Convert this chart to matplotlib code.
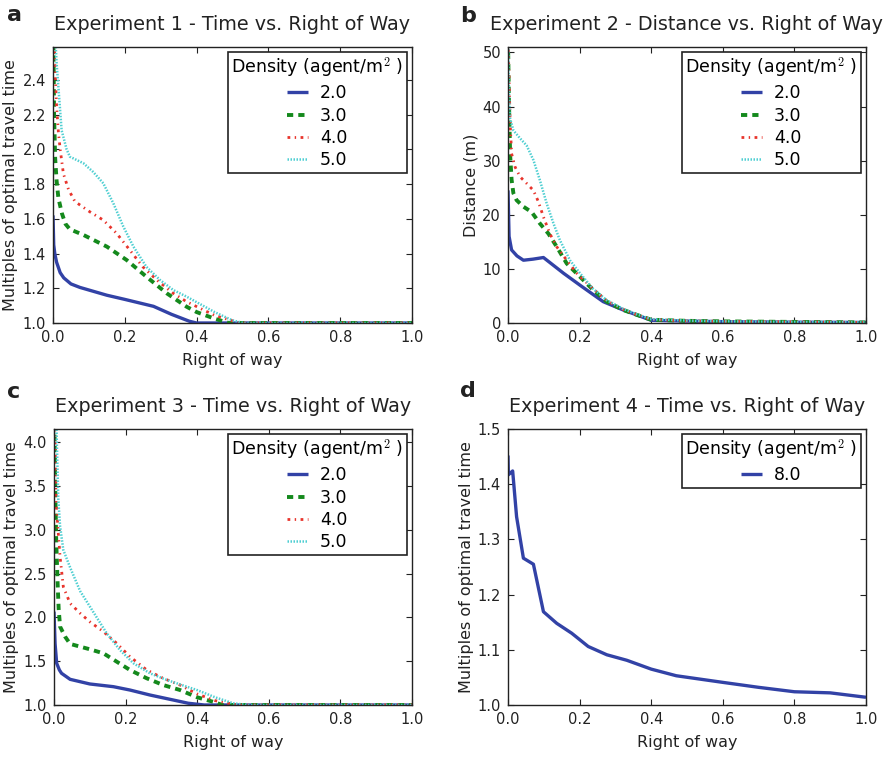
import matplotlib
matplotlib.use("Agg")
import matplotlib.pyplot as plt

plt.rcParams['font.family'] = ['DejaVu Sans']
plt.rcParams['mathtext.fontset'] = 'cm'
plt.rcParams['xtick.direction'] = 'in'
plt.rcParams['ytick.direction'] = 'in'
plt.rcParams['xtick.top'] = True
plt.rcParams['ytick.right'] = True
plt.rcParams['xtick.major.size'] = 4
plt.rcParams['ytick.major.size'] = 4
plt.rcParams['axes.linewidth'] = 1.0

densities = ["2.0", "3.0", "4.0", "5.0"]
density_d = ["8.0"]
legend_title = "Density (agent/m$^2$ )"
titles = ["Experiment 1 - Time vs. Right of Way",
          "Experiment 2 - Distance vs. Right of Way",
          "Experiment 3 - Time vs. Right of Way",
          "Experiment 4 - Time vs. Right of Way"]
ylabels = ["Multiples of optimal travel time", "Distance (m)",
           "Multiples of optimal travel time", "Multiples of optimal travel time"]
xlabel = "Right of way"
panel_letters = ["a", "b", "c", "d"]

# ---- Panel a ----
a_x2 = [0, 0.002, 0.005, 0.01, 0.02, 0.03, 0.05, 0.075, 0.1, 0.15, 0.2, 0.25, 0.28, 0.33, 0.38, 0.4, 0.5, 0.6, 0.7, 0.8, 0.9, 1.0]
a_y2 = [1.62, 1.45, 1.40, 1.35, 1.29, 1.26, 1.225, 1.205, 1.19, 1.16, 1.136, 1.111, 1.096, 1.05, 1.01, 1.0, 1.0, 1.0, 1.0, 1.0, 1.0, 1.0]
a_x3 = [0, 0.003, 0.006, 0.01, 0.015, 0.025, 0.035, 0.047, 0.085, 0.15, 0.205, 0.26, 0.317, 0.372, 0.4, 0.45, 0.49, 0.6, 0.8, 1.0]
a_y3 = [2.9, 2.2, 1.95, 1.82, 1.72, 1.63, 1.57, 1.54, 1.507, 1.44, 1.363, 1.267, 1.171, 1.094, 1.063, 1.025, 1.0, 1.0, 1.0, 1.0]
a_x4 = [0, 0.005, 0.01, 0.015, 0.02, 0.029, 0.043, 0.061, 0.103, 0.14, 0.177, 0.214, 0.25, 0.289, 0.335, 0.372, 0.45, 0.52, 0.6, 0.8, 1.0]
a_y4 = [3.0, 2.5, 2.25, 2.1, 2.0, 1.86, 1.77, 1.70, 1.64, 1.593, 1.517, 1.42, 1.324, 1.248, 1.171, 1.123, 1.044, 1.0, 1.0, 1.0, 1.0]
a_x5 = [0, 0.005, 0.01, 0.015, 0.024, 0.038, 0.047, 0.085, 0.112, 0.14, 0.168, 0.196, 0.224, 0.26, 0.298, 0.335, 0.372, 0.45, 0.5, 0.53, 0.6, 0.8, 1.0]
a_y5 = [3.2, 2.7, 2.5, 2.36, 2.11, 2.0, 1.958, 1.92, 1.87, 1.805, 1.69, 1.555, 1.44, 1.324, 1.248, 1.19, 1.152, 1.063, 1.015, 1.0, 1.0, 1.0, 1.0]

# ---- Panel b ----
b_x2 = [0, 0.003, 0.01, 0.025, 0.043, 0.07, 0.099, 0.155, 0.205, 0.266, 0.322, 0.36, 0.4, 0.5, 0.6, 0.8, 1.0]
b_y2 = [24.5, 16, 13.5, 12.4, 11.6, 11.8, 12.1, 9.2, 6.8, 3.94, 2.4, 1.48, 0.5, 0.35, 0.25, 0.15, 0.1]
b_x3 = [0, 0.003, 0.006, 0.01, 0.015, 0.024, 0.043, 0.066, 0.089, 0.113, 0.136, 0.164, 0.201, 0.238, 0.276, 0.322, 0.36, 0.4, 0.5, 0.6, 0.8, 1.0]
b_y3 = [52, 40, 31, 26.5, 24, 22.7, 21.5, 20.5, 18.4, 16.5, 14.1, 11.0, 8.55, 6.1, 3.94, 2.4, 1.5, 0.6, 0.4, 0.3, 0.2, 0.1]
b_x4 = [0, 0.003, 0.006, 0.01, 0.02, 0.034, 0.052, 0.071, 0.085, 0.099, 0.117, 0.136, 0.164, 0.192, 0.238, 0.276, 0.322, 0.36, 0.4, 0.5, 0.6, 0.8, 1.0]
b_y4 = [53, 45, 37, 31.3, 28.8, 27, 25.8, 24.5, 22.4, 19.6, 16.5, 14.1, 11.6, 9.2, 6.3, 4.1, 2.5, 1.55, 0.65, 0.4, 0.3, 0.2, 0.1]
b_x5 = [0, 0.002, 0.005, 0.015, 0.034, 0.052, 0.071, 0.089, 0.108, 0.127, 0.145, 0.173, 0.201, 0.238, 0.276, 0.322, 0.36, 0.4, 0.5, 0.6, 0.8, 1.0]
b_y5 = [54, 45, 38, 35.6, 34.1, 32.8, 30.1, 26.4, 22.1, 18.4, 15.3, 11.6, 9.2, 6.3, 4.2, 2.6, 1.6, 0.7, 0.45, 0.3, 0.2, 0.1]

# ---- Panel c ----
c_x2 = [0, 0.003, 0.0075, 0.015, 0.021, 0.045, 0.1, 0.166, 0.212, 0.268, 0.333, 0.375, 0.42, 0.5, 0.6, 0.8, 1.0]
c_y2 = [2.066, 1.7, 1.476, 1.40, 1.362, 1.293, 1.24, 1.209, 1.171, 1.114, 1.057, 1.02, 1.0, 1.0, 1.0, 1.0, 1.0]
c_x3 = [0, 0.003, 0.006, 0.01, 0.013, 0.017, 0.031, 0.045, 0.073, 0.1, 0.138, 0.175, 0.212, 0.259, 0.305, 0.352, 0.4, 0.45, 0.47, 0.6, 0.8, 1.0]
c_y3 = [4.6, 3.6, 2.9, 2.4, 2.1, 1.894, 1.78, 1.697, 1.666, 1.636, 1.59, 1.495, 1.40, 1.305, 1.228, 1.171, 1.088, 1.03, 1.0, 1.0, 1.0, 1.0]
c_x4 = [0, 0.003, 0.0056, 0.012, 0.017, 0.026, 0.045, 0.073, 0.1, 0.138, 0.175, 0.212, 0.259, 0.305, 0.352, 0.4, 0.45, 0.5, 0.52, 0.6, 0.8, 1.0]
c_y4 = [4.9, 4.0, 3.34, 2.96, 2.69, 2.35, 2.16, 2.047, 1.95, 1.837, 1.705, 1.552, 1.40, 1.305, 1.228, 1.126, 1.05, 1.01, 1.0, 1.0, 1.0, 1.0]
c_x5 = [0, 0.007, 0.012, 0.017, 0.026, 0.045, 0.073, 0.11, 0.147, 0.184, 0.222, 0.268, 0.315, 0.371, 0.4, 0.45, 0.5, 0.54, 0.6, 0.8, 1.0]
c_y5 = [5.0, 4.15, 3.35, 3.04, 2.77, 2.57, 2.3, 2.06, 1.82, 1.628, 1.476, 1.362, 1.286, 1.209, 1.17, 1.088, 1.02, 1.0, 1.0, 1.0, 1.0]

# ---- Panel d ----
d_x8 = [0, 0.001, 0.006, 0.013, 0.024, 0.043, 0.071, 0.099, 0.136, 0.178, 0.224, 0.276, 0.332, 0.4, 0.47, 0.6, 0.7, 0.8, 0.9, 1.0]
d_y8 = [1.452, 1.417, 1.42, 1.424, 1.341, 1.266, 1.255, 1.169, 1.148, 1.13, 1.106, 1.091, 1.081, 1.065, 1.053, 1.041, 1.032, 1.024, 1.022, 1.014]

xticks = [0.0, 0.2, 0.4, 0.6, 0.8, 1.0]
a_yticks = [1.0, 1.2, 1.4, 1.6, 1.8, 2.0, 2.2, 2.4]
b_yticks = [0, 10, 20, 30, 40, 50]
c_yticks = [1.0, 1.5, 2.0, 2.5, 3.0, 3.5, 4.0]
d_yticks = [1.0, 1.1, 1.2, 1.3, 1.4, 1.5]

styles = [
    dict(color='#3242a6', lw=2.4, ls='-'),
    dict(color='#14891c', lw=2.8, ls=(0, (1.6, 1.3))),
    dict(color='#e8342c', lw=2.0, ls=(0, (1.0, 1.6, 0.5, 1.6))),
    dict(color='#4fcfd2', lw=1.8, ls=(0, (0.6, 0.6))),
]

W, H = 890, 758
fig = plt.figure(figsize=(W / 100, H / 100), dpi=100)

def rect(l, r, t, b):
    return [l / W, (H - b) / H, (r - l) / W, (b - t) / H]

axes = [fig.add_axes(rect(53, 412, 47, 323)),
        fig.add_axes(rect(508, 866, 47, 323)),
        fig.add_axes(rect(54, 412, 429, 705)),
        fig.add_axes(rect(508, 866, 429, 705))]

series = [
    [(a_x2, a_y2), (a_x3, a_y3), (a_x4, a_y4), (a_x5, a_y5)],
    [(b_x2, b_y2), (b_x3, b_y3), (b_x4, b_y4), (b_x5, b_y5)],
    [(c_x2, c_y2), (c_x3, c_y3), (c_x4, c_y4), (c_x5, c_y5)],
    [(d_x8, d_y8)],
]
labels = [densities, densities, densities, density_d]
ylims = [(1.0, 2.59), (0, 51), (1.0, 4.15), (1.0, 1.5)]
yticks = [a_yticks, b_yticks, c_yticks, d_yticks]
yfmt = ["%.1f", "%d", "%.1f", "%.1f"]
letter_pos = [(7, 21), (460, 22), (7, 398), (460, 397)]

for i, ax in enumerate(axes):
    for (xs, ys), lab, st in zip(series[i], labels[i], styles):
        ax.plot(xs, ys, label=lab, solid_capstyle='butt', dash_capstyle='butt', **st)
    ax.set_xlim(0, 1)
    ax.set_ylim(*ylims[i])
    ax.set_xticks(xticks)
    ax.set_xticklabels(["%.1f" % v for v in xticks])
    ax.set_yticks(yticks[i])
    ax.set_yticklabels([yfmt[i] % v for v in yticks[i]])
    ax.tick_params(labelsize=10.5, colors='#222222', pad=5)
    ax.set_xlabel(xlabel, fontsize=11.5, color='#222222', labelpad=6)
    ax.set_ylabel(ylabels[i], fontsize=11.5, color='#222222', labelpad=3)
    ax.set_title(titles[i], fontsize=13.8, color='#222222', pad=12)
    for s in ax.spines.values():
        s.set_color('#222222')
    leg = ax.legend(title=legend_title, loc='upper right', fontsize=12.5,
                    title_fontsize=12.5, frameon=True, fancybox=False,
                    framealpha=1, edgecolor='#222222', borderaxespad=0.3,
                    handlelength=1.2, handletextpad=0.7, labelspacing=0.25,
                    borderpad=0.2)
    leg.get_frame().set_linewidth(1.2)
    lx, ly = letter_pos[i]
    fig.text(lx / W, 1 - ly / H, panel_letters[i], fontsize=16,
             fontweight='bold', ha='left', va='baseline', color='#222222')

fig.savefig("out.png", dpi=100)
